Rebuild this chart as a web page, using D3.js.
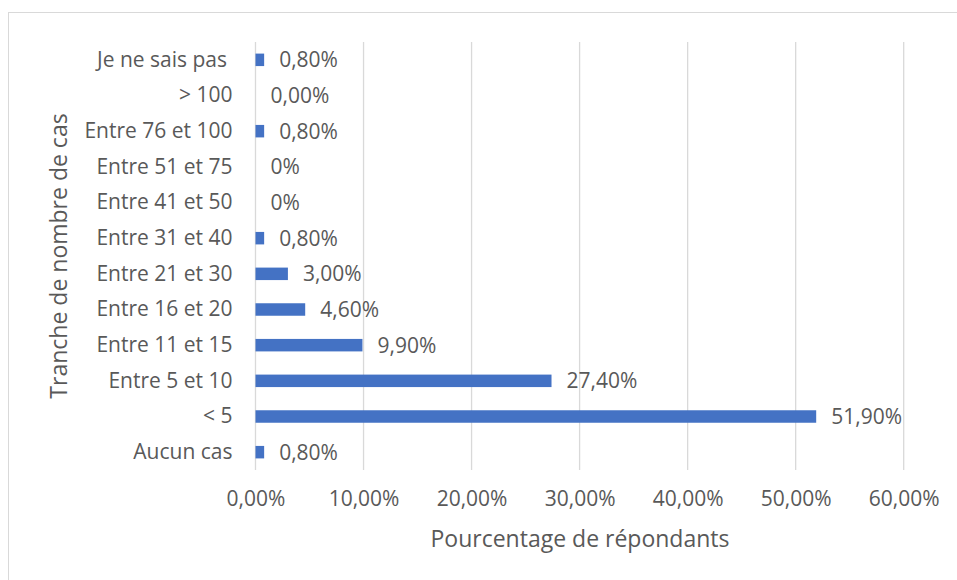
<!DOCTYPE html>
<html lang="fr">
<head>
  <meta charset="UTF-8">
  <script src="https://d3js.org/d3.v7.min.js"></script>
  <title>Tranche de nombre de cas</title>
  <style>
    body { margin: 0; background: #fff; }
    text { font-family: "Open Sans", sans-serif; fill: #595959; }
  </style>
</head>
<body>
  <svg width="957" height="580"></svg>
  <script>
    // categories from top to bottom (the first one keeps its trailing space)
    const categories = ['Je ne sais pas ', '> 100', 'Entre 76 et 100', 'Entre 51 et 75', 'Entre 41 et 50',
      'Entre 31 et 40', 'Entre 21 et 30', 'Entre 16 et 20', 'Entre 11 et 15', 'Entre 5 et 10', '< 5', 'Aucun cas']
    const values = [0.8, 0, 0.8, 0, 0, 0.8, 3.0, 4.6, 9.9, 27.4, 51.9, 0.8]
    const valueLabels = ['0,80%', '0,00%', '0,80%', '0%', '0%', '0,80%', '3,00%', '4,60%', '9,90%', '27,40%', '51,90%', '0,80%']
    const xTicks = [0, 10, 20, 30, 40, 50, 60]

    const BAR_COLOR = '#4472C4'
    const GRID_COLOR = '#d9d9d9'

    const svg = d3.select('svg')

    // chart border (extends past the right/bottom edges)
    svg.append('rect')
      .attr('x', 8.5).attr('y', 12.5)
      .attr('width', 1000).attr('height', 1000)
      .attr('fill', 'none').attr('stroke', GRID_COLOR)

    const x = d3.scaleLinear().domain([0, 60]).range([255.5, 903.7])
    const y = d3.scaleBand().domain(categories).range([42, 470]).paddingInner(0.65).paddingOuter(0.325)

    svg.append('g')
      .selectAll('line')
      .data(xTicks)
      .join('line')
      .attr('x1', d => x(d)).attr('x2', d => x(d))
      .attr('y1', 42).attr('y2', 470)
      .attr('stroke', GRID_COLOR)
      .attr('stroke-width', 1.3)

    const xAxis = svg.append('g')
      .attr('transform', 'translate(0,470)')
      .call(d3.axisBottom(x).tickValues(xTicks).tickSize(0).tickPadding(21)
        .tickFormat(d => d3.format('.2f')(d).replace('.', ',') + '%'))
    xAxis.select('.domain').remove()
    xAxis.selectAll('text').style('font-size', '21px').attr('fill', '#595959')

    const yAxis = svg.append('g')
      .attr('transform', 'translate(255.5,0)')
      .call(d3.axisLeft(y).tickSize(0).tickPadding(23))
    yAxis.select('.domain').remove()
    yAxis.selectAll('text')
      .style('font-size', '21px')
      .style('white-space', 'pre')
      .attr('fill', '#595959')

    svg.append('g')
      .selectAll('rect')
      .data(values)
      .join('rect')
      .attr('x', x(0))
      .attr('y', (d, i) => y(categories[i]))
      .attr('width', d => x(d) - x(0))
      .attr('height', y.bandwidth())
      .attr('fill', BAR_COLOR)

    svg.append('g')
      .selectAll('text')
      .data(values)
      .join('text')
      .attr('x', d => x(d) + 15)
      .attr('y', (d, i) => y(categories[i]) + y.bandwidth() / 2)
      .attr('dy', '0.35em')
      .style('font-size', '21px')
      .text((d, i) => valueLabels[i])

    svg.append('text')
      .attr('x', 580).attr('y', 547)
      .attr('text-anchor', 'middle')
      .style('font-size', '23px')
      .text('Pourcentage de répondants')

    svg.append('text')
      .attr('transform', 'translate(67,256) rotate(-90)')
      .attr('text-anchor', 'middle')
      .style('font-size', '23px')
      .text('Tranche de nombre de cas')
  </script>
</body>
</html>
